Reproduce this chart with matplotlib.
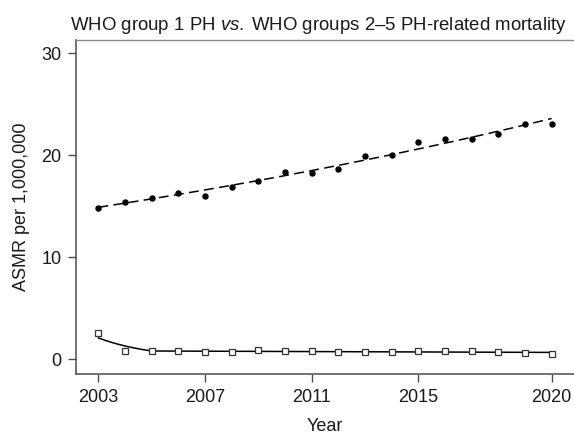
#!/usr/bin/env python3
# -*- coding: utf-8 -*-
"""
    ASMR per 1,000,000: WHO group 1 PH frente a WHO groups 2-5 PH,
    con las curvas de ajuste log-lineal (joinpoint) de cada serie.
"""

import numpy as np
import matplotlib
matplotlib.use("Agg")
import matplotlib.pyplot as plt

# Datos
years = [2003, 2004, 2005, 2006, 2007, 2008, 2009, 2010, 2011,
         2012, 2013, 2014, 2015, 2016, 2017, 2018, 2019, 2020]

# WHO groups 2-5 PH (puntos negros)
asmr_groups25 = [14.85, 15.4, 15.85, 16.35, 16.05, 16.85, 17.5, 18.4, 18.25,
                 18.7, 19.95, 20.0, 21.3, 21.6, 21.6, 22.1, 23.1, 23.1]

# WHO group 1 PH (cuadrados blancos)
asmr_group1 = [2.6, 0.85, 0.82, 0.82, 0.76, 0.76, 0.88, 0.8, 0.82,
               0.73, 0.73, 0.73, 0.8, 0.82, 0.8, 0.73, 0.63, 0.5]

joinpoint_group1 = 2005

x_ticks = [2003, 2007, 2011, 2015, 2020]
y_ticks = [0, 10, 20, 30]

plt.rcParams["font.family"] = ["Liberation Sans", "DejaVu Sans"]
plt.rcParams["mathtext.fontset"] = "custom"
plt.rcParams["mathtext.rm"] = "Liberation Sans"
plt.rcParams["mathtext.it"] = "Liberation Sans:italic"

axis_col = "#4d4d4d"


def ajuste_loglineal(x, y):
    """Regresion log-lineal simple"""
    b, a = np.polyfit(x, np.log(y), 1)
    xs = np.linspace(min(x), max(x), 200)
    return xs, np.exp(a + b * xs)


def ajuste_joinpoint(x, y, jp):
    """Regresion log-lineal continua por tramos con un punto de union"""
    x = np.asarray(x, dtype=float)
    X = np.column_stack([np.ones_like(x), x - jp, np.clip(x - jp, 0, None)])
    coef, *_ = np.linalg.lstsq(X, np.log(y), rcond=None)
    xs = np.linspace(x.min(), x.max(), 200)
    Xs = np.column_stack([np.ones_like(xs), xs - jp, np.clip(xs - jp, 0, None)])
    return xs, np.exp(Xs @ coef)


fig = plt.figure(figsize=(5.74, 4.34), dpi=100)
ax = fig.add_axes([76 / 574, 60 / 434, 498 / 574, 334 / 434])

# Serie WHO groups 2-5
xs, ys = ajuste_loglineal(years, asmr_groups25)
ax.plot(xs, ys, color="black", lw=1.1, dashes=(6.5, 3.5))
ax.plot(years, asmr_groups25, "o", color="black", ms=3.6, zorder=3)

# Serie WHO group 1
xs, ys = ajuste_joinpoint(years, asmr_group1, joinpoint_group1)
ax.plot(xs, ys, color="black", lw=1.1)
ax.plot(years, asmr_group1, "s", mfc="white", mec="#333333", mew=0.9,
        ms=4.6, zorder=3)

ax.set_xlim(2002.16, 2020.84)
ax.set_ylim(-1.44, 31.3)
ax.set_xticks(x_ticks)
ax.set_yticks(y_ticks)

ax.spines["right"].set_visible(False)
for s in ["left", "bottom"]:
    ax.spines[s].set_color(axis_col)
    ax.spines[s].set_linewidth(1.1)
ax.spines["top"].set_color("#8a8a8a")
ax.spines["top"].set_linewidth(1.0)

ax.tick_params(axis="both", direction="out", length=5.5, width=1.0,
               color=axis_col, labelsize=13, labelcolor="#1a1a1a", pad=5)

ax.set_xlabel("Year", fontsize=13, color="#1a1a1a", labelpad=9)
ax.set_ylabel("ASMR per 1,000,000", fontsize=13, color="#1a1a1a", labelpad=8)
ax.set_title(r"WHO group 1 PH $\it{vs.}\;$WHO groups 2–5 PH-related mortality",
             loc="left", fontsize=13.4, color="#1a1a1a", pad=7, x=-0.012)

fig.savefig("out.png", dpi=100)
